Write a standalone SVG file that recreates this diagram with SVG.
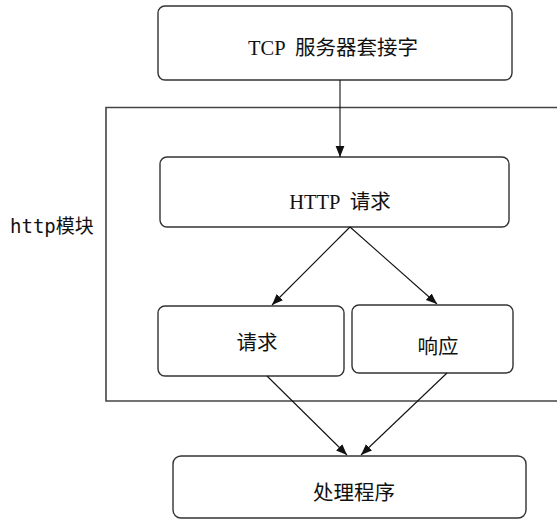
<svg xmlns="http://www.w3.org/2000/svg" width="557" height="520" viewBox="0 0 557 520">
<style>
.box{fill:#fff;stroke:#333;stroke-width:1.4}
.frame{fill:none;stroke:#444;stroke-width:1.6}
.lbl{font-family:"Liberation Serif","Noto Sans CJK SC",serif;font-size:20.5px;fill:#111;text-anchor:middle}
.side{font-family:"DejaVu Sans Mono","Noto Sans CJK SC",monospace;font-size:19px;fill:#111}
.edge{stroke:#111;stroke-width:1.1;fill:none;marker-end:url(#ah)}
</style>
<defs>
<marker id="ah" viewBox="0 0 10 10" refX="10" refY="5" markerWidth="11" markerHeight="11" markerUnits="userSpaceOnUse" orient="auto">
<path d="M0,1 L10,5 L0,9 Z" fill="#111"/>
</marker>
</defs>
<g id="frame">
<path class="frame" d="M560,107.5 H106 V401 H560"/>
<text class="side" x="10" y="233">http模块</text>
</g>
<g id="tcp">
<rect class="box" x="158" y="6" width="354" height="74" rx="7"/>
<text class="lbl" x="333" y="55" xml:space="preserve">TCP  服务器套接字</text>
</g>
<g id="http">
<rect class="box" x="160" y="157" width="349" height="70" rx="7"/>
<text class="lbl" x="340" y="209" xml:space="preserve">HTTP  请求</text>
</g>
<g id="req">
<rect class="box" x="158" y="306" width="186" height="70" rx="7"/>
<text class="lbl" x="257" y="350">请求</text>
</g>
<g id="resp">
<rect class="box" x="352" y="305" width="161" height="68" rx="7"/>
<text class="lbl" x="438" y="354">响应</text>
</g>
<g id="handler">
<rect class="box" x="173" y="456" width="353" height="62" rx="8"/>
<text class="lbl" x="354" y="500">处理程序</text>
</g>
<g id="connectors">
<line class="edge" x1="340" y1="80" x2="340" y2="157"/>
<line class="edge" x1="350" y1="227" x2="272" y2="305"/>
<line class="edge" x1="350" y1="227" x2="437" y2="304"/>
<line class="edge" x1="267" y1="376" x2="347" y2="455"/>
<line class="edge" x1="447" y1="373" x2="361" y2="455"/>
</g>
</svg>
